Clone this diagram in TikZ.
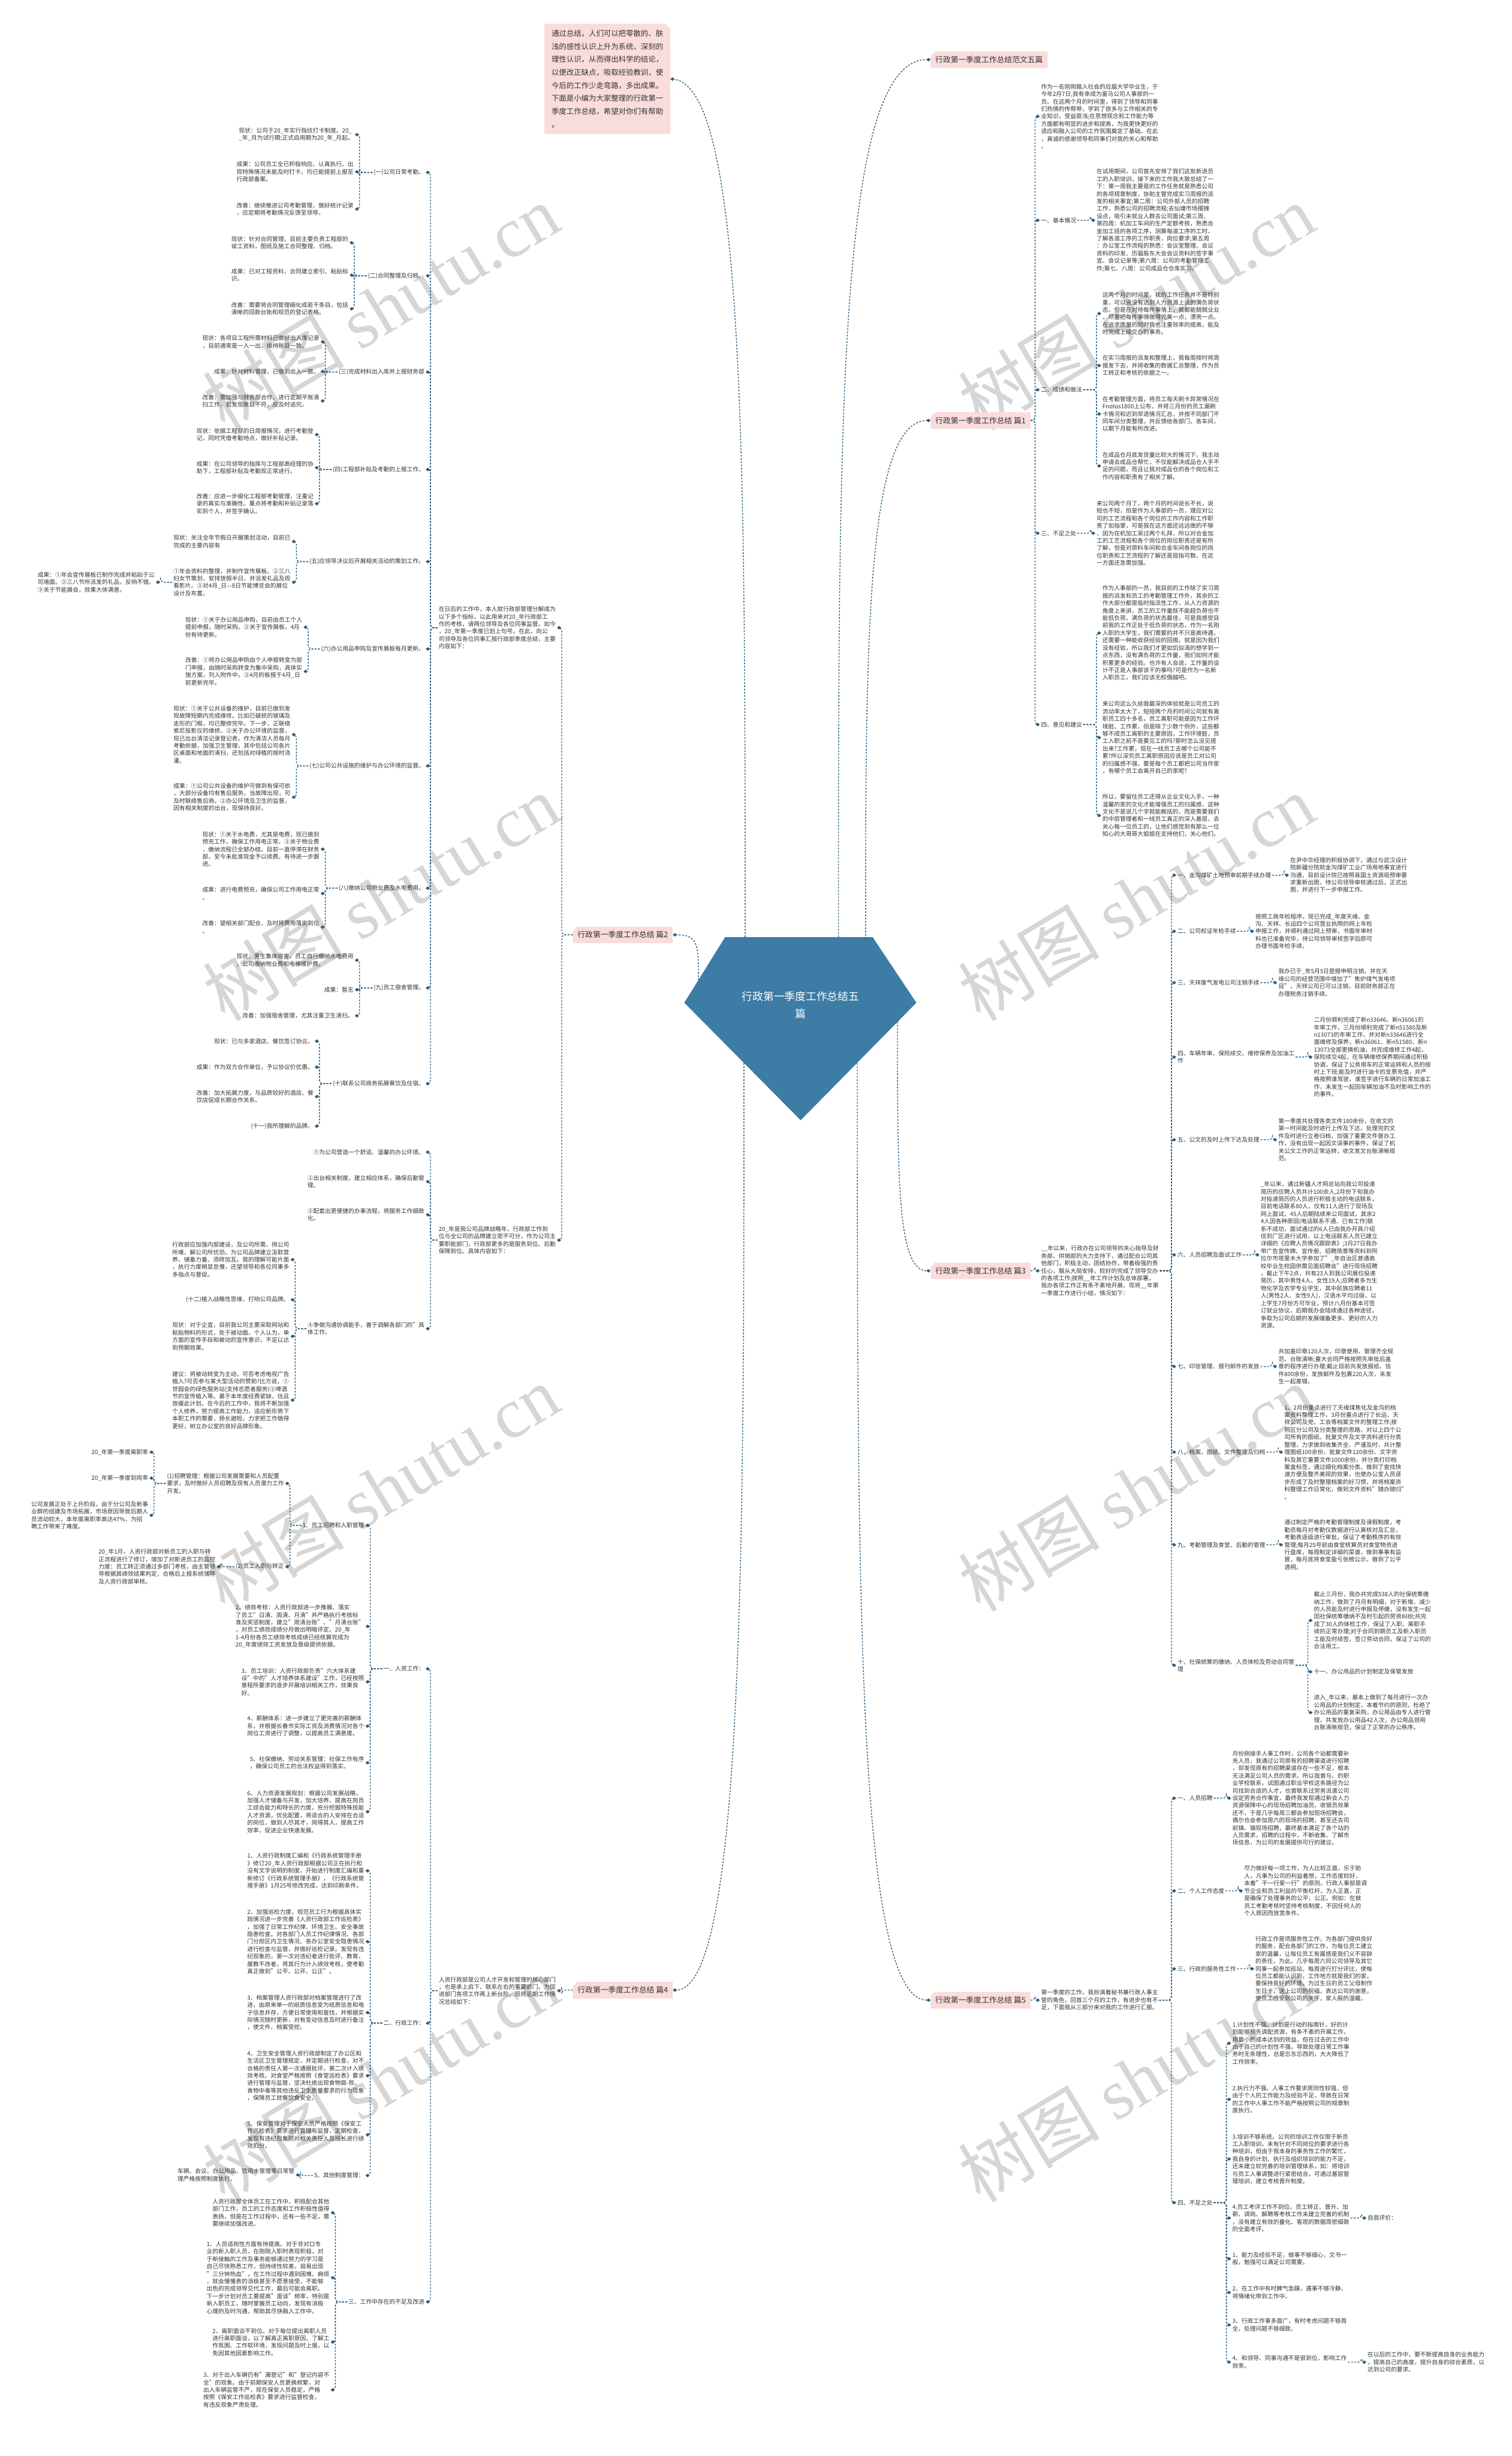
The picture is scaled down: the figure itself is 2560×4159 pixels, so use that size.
\documentclass[tikz,border=0pt]{standalone}
\usepackage{fontspec}
\setmainfont{Noto Sans CJK SC}
\newfontfamily\wmserif{Liberation Serif}
\usetikzlibrary{arrows.meta,shapes.misc}
\definecolor{lnkc}{HTML}{2B5F82}
\definecolor{pinkbg}{HTML}{FADCDC}
\definecolor{ctrbg}{HTML}{3D7CA4}
\definecolor{txtc}{HTML}{333333}
\definecolor{wmc}{HTML}{D6D6D6}
\newcommand\mmL[2]{\draw[lnk] (#1.west) -| ([xshift=8pt]#2.east) -- (#2.east);}
\newcommand\mmR[2]{\draw[lnk] (#1.east) -| ([xshift=-8pt]#2.west) -- (#2.west);}
\begin{document}
\begin{tikzpicture}[x=1pt,y=-1pt,
 txt/.style={font=\fontsize{9.9}{12.6}\selectfont, align=left, inner sep=2pt, text=txtc},
 lbl/.style={chamfered rectangle, chamfered rectangle corners=north west, chamfered rectangle xsep=4pt, fill=pinkbg, font=\fontsize{13}{16}\selectfont, inner xsep=4pt, minimum height=28pt, text=txtc},
 notebox/.style={chamfered rectangle, chamfered rectangle corners=north east, chamfered rectangle xsep=5pt, fill=pinkbg, font=\fontsize{12.6}{22}\selectfont, align=left, inner sep=7pt, text=txtc},
 lnk/.style={draw=lnkc, line width=1.4pt, dash pattern=on 3pt off 2.5pt, rounded corners=6pt, -{Diamond[length=7pt,width=6pt]}},
 wm/.style={text=wmc, rotate=31, font=\fontsize{120}{120}\selectfont}
]
\fill[white] (0,0) rectangle (2560,4159);
\useasboundingbox (0,0) rectangle (2560,4159);

% watermarks
\foreach \yy/\nm in {520/1,1520/2,2520/3,3520/4}{
 \node[wm] (wmL\nm) at (645,\yy) {树图 {\wmserif shutu.cn}};
 \node[wm] (wmR\nm) at (1924,\yy) {树图 {\wmserif shutu.cn}};
}

% center
\fill[ctrbg] (1228,1587) -- (1478,1587) -- (1552,1698) -- (1356,1897) -- (1159,1698) -- cycle;
\node[text=white, font=\fontsize{18}{29}\selectfont, align=center] (ctr) at (1356,1702) {行政第一季度工作总结五\\篇};
\coordinate (cNote) at (1262,1587);
\coordinate (cFW) at (1420,1587);
\coordinate (cP1) at (1466,1590);
\coordinate (cP3) at (1520,1730);
\coordinate (cP5) at (1452,1800);
\coordinate (cP2) at (1183,1660);
\coordinate (cP4) at (1260,1800);

% top
\node[notebox, anchor=north west] (note) at (922,40) {通过总结，人们可以把零散的、肤\\浅的感性认识上升为系统、深刻的\\理性认识，从而得出科学的结论，\\以便改正缺点，吸取经验教训，使\\今后的工作少走弯路，多出成果。\\下面是小编为大家整理的行政第一\\季度工作总结，希望对你们有帮助\\。};
\node[lbl, anchor=west] (FW) at (1576,101) {行政第一季度工作总结范文五篇};
\draw[lnk] (cNote) .. controls (1262,800) and (1262,148) .. (note.east);
\draw[lnk] (cFW) .. controls (1420,700) and (1420,101) .. (FW.west);

% ================= 篇1 =================
\node[lbl, anchor=west] (R1) at (1576,712) {行政第一季度工作总结 篇1};
\draw[lnk] (cP1) .. controls (1466,1100) and (1466,712) .. (R1.west);
\node[txt, anchor=west] (p1) at (1761,197) {作为一名刚刚踏入社会的应届大学毕业生，于\\今年2月7日,我有幸成为富马公司人事部的一\\员。在这两个月的时间里，得到了领导和同事\\们热情的传帮带，学到了很多与工作相关的专\\业知识，受益匪浅;在思想观念和工作能力等\\方面都有明显的进步和提高，为我更快更好的\\适应和融入公司的工作氛围奠定了基础。在此\\，真诚的感谢领导和同事们对我的关心和帮助\\。};
\node[txt, anchor=west] (r1) at (1761,373) {一、基本情况};
\node[txt, anchor=west] (r2) at (1761,660) {二、成绩和做法};
\node[txt, anchor=west] (r3) at (1761,903) {三、不足之处};
\node[txt, anchor=west] (r4) at (1761,1227) {四、意见和建议};
\mmR{R1}{p1}\mmR{R1}{r1}\mmR{R1}{r2}\mmR{R1}{r3}\mmR{R1}{r4}
\node[txt, anchor=west] (r1a) at (1855,373) {在试用期间，公司首先安排了我们这批新进员\\工的入职培训，接下来的工作我大致总结了一\\下：第一周我主要是的工作任务就是熟悉公司\\的各项规章制度，协助主管完成实习周报的派\\发的相关事宜;第二周：公司外部人员的招聘\\工作，熟悉公司的招聘流程;去仙塘市场摆摊\\设点，吸引未就业人群去公司面试;第三周、\\第四周：机加工车间的生产定额考核，熟悉合\\金加工班的各项工序，测算每道工序的工时，\\了解各道工序的工作职责，岗位要求;第五周\\：办公室工作流程的熟悉：会议室整理、会议\\资料的印发、历届股东大会会议资料的签字事\\宜、会议记录等;第六周：公司的考勤管理工\\作;第七、八周：公司成品仓仓库实习。};
\mmR{r1}{r1a}
\node[txt, anchor=west] (r2a) at (1865,531) {这两个月的时间里，我的工作任务并不是特别\\重，可以说没有达到人力资源上说的满负荷状\\态，但是在对待每件事情上，我都能兢兢业业\\，尽量把每件事情做得完美一点，漂亮一点。\\在追求质量的同时我也注重效率的提高，能及\\时完成上级交办的事务。};
\node[txt, anchor=west] (r2b) at (1865,619) {在实习周报的派发和整理上，我每周按时将周\\报发下去，并将收集的数据汇总整理，作为员\\工转正和考核的依据之一。};
\node[txt, anchor=west] (r2c) at (1865,701) {在考勤管理方面，将员工每天刷卡异常情况在\\Fnotos1800上公布，并将三月份的员工漏刷\\卡情况和迟到早退情况汇总，并按不同部门不\\同车间分类整理，并反馈给各部门、各车间，\\以期下月能有所改进。};
\node[txt, anchor=west] (r2d) at (1865,789) {在成品仓月底发货量比较大的情况下，我主动\\申请去成品仓帮忙，不仅能解决成品仓人手不\\足的问题，而且让我对成品仓的各个岗位和工\\作内容和职责有了相关了解。};
\mmR{r2}{r2a}\mmR{r2}{r2b}\mmR{r2}{r2c}\mmR{r2}{r2d}
\node[txt, anchor=west] (r3a) at (1855,903) {来公司两个月了，两个月的时间说长不长，说\\短也不短，但是作为人事部的一员，理应对公\\司的工艺流程和各个岗位的工作内容和工作职\\责了如指掌，可是我在这方面还远远做的不够\\，因为在机加工呆过两个礼拜，所以对合金加\\工的工艺流程和各个岗位的岗位职责还是有所\\了解，但是对原料车间和合金车间各岗位的岗\\位职责和工艺流程的了解还是屈指可数。在这\\一方面还急需加强。};
\mmR{r3}{r3a}
\node[txt, anchor=west] (r4a) at (1865,1072) {作为人事部的一员，我目前的工作除了实习周\\报的派发和员工的考勤管理工作外，其余的工\\作大部分都是临时指派性工作，从人力资源的\\角度上来讲，员工的工作量既不能超负荷也不\\能低负荷，满负荷的状态最佳，可是我感觉目\\前我的工作正处于低负荷的状态，作为一名刚\\入职的大学生，我们需要的并不只是高待遇，\\还需要一种能收获经验的回报。就是因为我们\\没有经验，所以我们才更如饥似渴的想学到一\\点东西，没有满负荷的工作量，我们如何才能\\积累更多的经验。也许有人会说，工作量的设\\计不正是人事部该干的事吗?可是作为一名新\\入职员工，我们应该无权僭越吧。};
\node[txt, anchor=west] (r4b) at (1865,1249) {来公司这么久给我最深的体验就是公司员工的\\流动率太大了，短短两个月的时间公司就有离\\职员工四十多名，员工离职可能是因为工作环\\境脏、工作累，但是除了少数个例外，这些都\\够不成员工离职的主要原因，工作环境脏，员\\工入职之前不是要见工的吗?那时怎么没见提\\出来?工作累，现在一线员工去哪个公司能不\\累?所以深究员工离职原因应该是员工对公司\\的归属感不强，要是每个员工都把公司当作家\\，有哪个员工会离开自己的家呢?};
\node[txt, anchor=west] (r4c) at (1865,1381) {所以，要留住员工还得从企业文化入手，一种\\温馨的家的文化才能增强员工的归属感，这种\\文化不是说几个字就能概括的，而是需要我们\\的中层管理者和一线员工真正的深入基层，去\\关心每一位员工的，让他们感觉到有那么一位\\知心的大哥哥大姐姐在支持他们，关心他们。};
\mmR{r4}{r4a}\mmR{r4}{r4b}\mmR{r4}{r4c}

% ================= 篇3 =================
\node[lbl, anchor=west] (R3) at (1576,2152) {行政第一季度工作总结 篇3};
\draw[lnk] (cP3) .. controls (1520,2000) and (1520,2152) .. (R3.west);
\node[txt, anchor=west] (D) at (1761,2152) {\_\_年以来，行政办在公司领导的关心指导及财\\务部、供销部的大力支持下，通过配合公司其\\他部门，积极主动，团结协作，带着极强的责\\任心，服从大局安排，较好的完成了领导交办\\的各项工作;按照\_\_年工作计划及总体部署，\\我办各项工作正有条不紊地开展，现将\_\_年第\\一季度工作进行小结，情况如下：};
\mmR{R3}{D}
\node[txt, anchor=west] (s1) at (1992,1482) {一、金沟煤矿土地预审前期手续办理};
\node[txt, anchor=west] (s2) at (1992,1577) {二、公司权证年检手续};
\node[txt, anchor=west] (s3) at (1992,1664) {三、天祥废气发电公司注销手续};
\node[txt, anchor=west] (s4) at (1992,1790) {四、车辆年审、保险续交、维修保养及加油工\\作};
\node[txt, anchor=west] (s5) at (1992,1930) {五、公文的及时上传下达及处理};
\node[txt, anchor=west] (s6) at (1992,2125) {六、人员招聘及面试工作};
\node[txt, anchor=west] (s7) at (1992,2314) {七、印信管理、报刊邮件的发放};
\node[txt, anchor=west] (s8) at (1992,2459) {八、档案、图纸、文件整理及归档};
\node[txt, anchor=west] (s9) at (1992,2616) {九、考勤管理及食堂、后勤的管理};
\node[txt, anchor=west] (s10) at (1992,2820) {十、社保统筹的缴纳、人员体检及劳动合同管\\理};
\mmR{D}{s1}\mmR{D}{s2}\mmR{D}{s3}\mmR{D}{s4}\mmR{D}{s5}\mmR{D}{s6}\mmR{D}{s7}\mmR{D}{s8}\mmR{D}{s9}\mmR{D}{s10}
\node[txt, anchor=west] (s1a) at (2183,1482) {在尹中华经理的积极协调下，通过与武汉设计\\院新疆分院就金沟煤矿工业广场用地事宜进行\\沟通，目前设计院已按照县国土资源局预审要\\求重新出图，待公司领导审核通过后，正式出\\图，并进行下一步申报工作。};
\node[txt, anchor=west] (s2a) at (2124,1577) {按照工商年检程序，现已完成\_年度天缘、金\\沟、天祥、长运四个公司营业执照的网上年检\\申报工作，并顺利通过网上预审，书面年审材\\料也已准备完毕，待公司领导审核签字后即可\\办理书面年检手续。};
\node[txt, anchor=west] (s3a) at (2163,1664) {我办已于\_年5月5日登报申明注销，并在天\\缘公司的经营范围中增加了"焦炉煤气发电项\\目"，天祥公司已可以注销，目前财务部正在\\办理税务注销手续。};
\node[txt, anchor=west] (s4a) at (2223,1790) {二月份顺利完成了新n33646、新n36061的\\年审工作，三月份顺利完成了新n51580及新\\n13073的年审工作，并对新n33646进行全\\面维修及保养，新n36061、新n51580、新n\\13073全部更换机油，共完成维修工作4起，\\保险续交4起，在车辆维修保养期间通过积极\\协调，保证了公务用车的正常运转和人员的按\\时上下班;能及时进行油卡的支票充值，并严\\格按照谁驾驶，谁签字进行车辆的日常加油工\\作，未发生一起因车辆加油不及时影响工作的\\的事件。};
\node[txt, anchor=west] (s5a) at (2163,1930) {第一季度共处理各类文件180余份，在收文的\\第一时间能及时进行上传及下达，处理完的文\\件及时进行立卷归档，加强了重要文件督办工\\作，没有出现一起因文误事的事件，保证了机\\关公文工作的正常运转，收文发文台账清晰规\\范。};
\node[txt, anchor=west] (s6a) at (2133,2125) {\_年以来，通过新疆人才网总站向我公司投递\\简历的应聘人员共计100余人,2月份下旬我办\\对投递简历的人员进行积极主动的电话联系，\\目前电话联系80人，仅有11人进行了现场及\\网上面试，45人后期陆续来公司面试，其余2\\4人因各种原因(电话联系不通、已有工作)联\\系不成功，面试通过的6人已由我办开具介绍\\信到厂区进行试用，以上电话联系人员已建立\\详细的《应聘人员情况跟踪表》;3月27日我办\\带广告宣传牌、宣传册、招聘简章等资料到阿\\拉尔市塔里木大学参加了"\_年自治区普通高\\校毕业生校园供需见面招聘会"进行现场招聘\\，截止下午2点，共有23人到我公司展位投递\\简历，其中男性4人、女性19人;应聘者多为生\\物化学及农学专业学生，其中民族应聘者11\\人(男性2人、女性9人)，汉语水平均过级，以\\上学生7月份方可毕业，预计八月份基本可签\\订就业协议，后期我办会陆续通过各种途径，\\争取为公司后期的发展储备更多、更好的人力\\资源。};
\node[txt, anchor=west] (s7a) at (2163,2314) {共加盖印章120人次，印章使用、管理齐全规\\范、台账清晰;重大合同严格按照先审批后盖\\章的程序进行办理;截止目前共发放报纸、信\\件800余份，发放邮件及包裹220人次，未发\\生一起差错。};
\node[txt, anchor=west] (s8a) at (2173,2459) {1、2月份重点进行了天缘煤焦化及金沟的档\\案资料整理工作，3月份重点进行了长运、天\\祥公司及党、工会等档案文件的整理工作;按\\照区分公司及分类整理的思路，对以上四个公\\司所有的图纸、批复文件及文字资料进行分类\\整理，力求做到收集齐全、严谨及时，共计整\\理图纸100余份、批复文件120余份、文字资\\料及其它重要文件1000余份，并分类打印档\\案盒标签，通过细化档案分类，做到了查找快\\速方便及整齐美观的效果，也使办公室人员逐\\步形成了及时整理档案的好习惯，并将档案资\\料整理工作日常化，做到文件资料"随办随归"\\。};
\node[txt, anchor=west] (s9a) at (2173,2616) {通过制定严格的考勤管理制度及请假制度，考\\勤员每月对考勤仪数据进行认真核对及汇总，\\考勤表逐级进行审批，保证了考勤秩序的有效\\管理;每月25号前由食堂核算员对食堂物资进\\行盘库，每周制定详细的菜谱，做到事事有监\\督，每月底将食堂盈亏张榜公示，做到了公平\\透明。};
\mmR{s1}{s1a}\mmR{s2}{s2a}\mmR{s3}{s3a}\mmR{s4}{s4a}\mmR{s5}{s5a}\mmR{s6}{s6a}\mmR{s7}{s7a}\mmR{s8}{s8a}\mmR{s9}{s9a}
\node[txt, anchor=west] (s10a) at (2223,2744) {截止三月份，我办共完成538人的社保统筹缴\\纳工作，做到了月月有明细，对于新增、减少\\的人员能及时进行申报及停缴，没有发生一起\\因社保统筹缴纳不及时引起的劳资纠纷;共完\\成了30人的体检工作，保证了入职、离职手\\续的正常办理;对于合同到期员工及新入职员\\工能及时续签、签订劳动合同，保证了公司的\\合法用工。};
\node[txt, anchor=west] (s10b) at (2223,2831) {十一、办公用品的计划制定及保管发放};
\node[txt, anchor=west] (s10c) at (2223,2900) {进入\_年以来，基本上做到了每月进行一次办\\公用品的计划制定，本着节约的原则，杜绝了\\办公用品的重复采购，办公用品由专人进行管\\理，共发放办公用品42人次，办公用品领用\\台账清晰规范，保证了正常的办公秩序。};
\mmR{s10}{s10a}\mmR{s10}{s10b}\mmR{s10}{s10c}

% ================= 篇5 =================
\node[lbl, anchor=west] (R5) at (1576,3387) {行政第一季度工作总结 篇5};
\draw[lnk] (cP5) .. controls (1452,2700) and (1452,3387) .. (R5.west);
\node[txt, anchor=west] (E) at (1761,3387) {第一季度的工作，我扮演着秘书兼行政人事主\\管的角色，回首三个月的工作，有进步也有不\\足，下面我从三部分来对我的工作进行汇报。};
\mmR{R5}{E}
\node[txt, anchor=west] (t1) at (1992,3045) {一、人员招聘};
\node[txt, anchor=west] (t2) at (1992,3202) {二、个人工作态度};
\node[txt, anchor=west] (t3) at (1992,3334) {三、行政的服务性工作};
\node[txt, anchor=west] (t4) at (1992,3730) {四、不足之处};
\mmR{E}{t1}\mmR{E}{t2}\mmR{E}{t3}\mmR{E}{t4}
\node[txt, anchor=west] (t1a) at (2085,3045) {月份刚接手人事工作时，公司各个站都需要补\\充人员，我通过公司原有的招聘渠道进行招聘\\，却发现原有的招聘渠道存在一些不足，根本\\无法满足公司人员的需求。所以我曾与、的职\\业学校联系，试图通过职业学校这条路径为公\\司找到合适的人才，也曾联系过劳务派遣公司\\谈定劳务合作事宜，最终我发现通过新会人力\\资源保障中心的现场招聘加油员、收银员效果\\还不，于是几乎每周三都会参加现场招聘会，\\偶尔也会参加周六的现场的招聘，甚至还去司\\前镇、镇现场招聘，最终基本满足了各个站的\\人员需求，招聘的过程中，不断收集、了解市\\场信息，为公司的发展提供可行的建议。};
\node[txt, anchor=west] (t2a) at (2105,3202) {尽力做好每一项工作，为人比较正直，乐于助\\人，凡事为公司的利益着想，工作态度较好，\\本着"干一行爱一行"的原则。行政人事部是调\\节企业和员工利益的平衡杠杆，为人正直，正\\是确保了处理事务的公平、公正。例如：在做\\员工考勤考核时坚持考核制度，不因任何人的\\个人原因而放宽条件。};
\node[txt, anchor=west] (t3a) at (2124,3334) {行政工作是项服务性工作，为各部门提供良好\\的服务，配合各部门的工作，为每位员工建立\\家的温馨，让每位员工有属感是我们义不容辞\\的责任，为此，几乎每周六同公司领导及其它\\同事一起参加巡站，每周进行打分评比，使每\\位员工都能认识到，工作地方就是我们的家，\\要保持良好的环境，为过生日的员工父母制作\\生日卡，送上公司的祝福，表达公司的谢意，\\使员工感受到公司的关怀，家人般的温暖。};
\mmR{t1}{t1a}\mmR{t2}{t2a}\mmR{t3}{t3a}
\node[txt, anchor=west] (u1) at (2085,3460) {1.计划性不强。计划是行动的指南针，好的计\\划能够预先调配资源，有条不紊的开展工作，\\用最小的成本达到的效益。但在过去的工作中\\由于自己的计划性不强，导致处理日常工作事\\务时无条理性，总是忘东忘西的，大大降低了\\工作效率。};
\node[txt, anchor=west] (u2) at (2085,3555) {2.执行力不强。人事工作要求原则性较强，但\\由于个人的工作能力及经验不足，导致在日常\\的工作中人事工作不能严格按照公司的规章制\\度执行。};
\node[txt, anchor=west] (u3) at (2085,3656) {3.培训不够系统。公司的培训工作仅限于新员\\工入职培训，未有针对不同岗位的要求进行各\\种培训，但由于我本身的事务性工作的繁忙，\\我自身的计划、执行及组织培训的能力不足，\\还未建立较完善的培训管理体系，如：将培训\\与员工人事调整进行紧密结合，可通过基层管\\理培训，建立考核晋升制度。};
\node[txt, anchor=west] (u4) at (2085,3756) {4.员工考评工作不到位。员工转正、晋升、加\\薪、调岗、解聘等考核工作未建立完善的机制\\，没有建立有效的量化、客观的数据周密细致\\的全面考评。};
\node[txt, anchor=west] (u5) at (2085,3825) {1、能力及经验不足，做事不够细心，文书一\\般，勉强可以满足公司需要。};
\node[txt, anchor=west] (u6) at (2085,3882) {2、在工作中有时脾气急躁，遇事不够冷静，\\将情绪化带到工作中。};
\node[txt, anchor=west] (u7) at (2085,3937) {3、行政工作事多面广，有时考虑问题不够周\\全，处理问题不够细致。};
\node[txt, anchor=west] (u8) at (2085,4000) {4、和领导、同事沟通不是很到位，影响工作\\效率。};
\mmR{t4}{u1}\mmR{t4}{u2}\mmR{t4}{u3}\mmR{t4}{u4}\mmR{t4}{u5}\mmR{t4}{u6}\mmR{t4}{u7}\mmR{t4}{u8}
\node[txt, anchor=west] (u4a) at (2314,3756) {自我评价：};
\node[txt, anchor=west] (u8a) at (2314,4000) {在以后的工作中，要不断提高自身的业务能力\\，提高自己的高度，提升自身的综合素质，以\\达到公司的要求。};
\mmR{u4}{u4a}\mmR{u8}{u8a}

% ================= 篇2 =================
\node[lbl, anchor=west] (L2) at (970,1583) {行政第一季度工作总结 篇2};
\draw[lnk] (cP2) .. controls (1183,1600) and (1183,1583) .. (L2.east);
\node[txt, anchor=west] (A) at (741,1063) {在日后的工作中，本人就行政部管理分解成为\\以下多个指标，以此用来对20\_年行政部工\\作的考核，请两位领导及各位同事监督。如今\\，20\_年第一季度已划上句号。在此，向公\\司领导及各位同事汇报行政部季度总结，主要\\内容如下：};
\node[txt, anchor=west] (B) at (741,2100) {20\_年是我公司品牌战略年，行政部工作到\\位与全公司的品牌建立密不可分，作为公司主\\要职能部门，行政部更多的是服务到位、后勤\\保障到位。具体内容如下：};
\mmL{L2}{A}\mmL{L2}{B}
\node[txt, anchor=east] (a1) at (721,292) {(一)公司日常考勤。};
\node[txt, anchor=east] (a2) at (721,467) {(二)合同整理及归档。};
\node[txt, anchor=east] (a3) at (721,630) {(三)完成材料出入库并上报财务部};
\node[txt, anchor=east] (a4) at (721,795) {(四)工程部补贴及考勤的上报工作。};
\node[txt, anchor=east] (a5) at (721,951) {(五)应领导决议后开展相关活动的策划工作。};
\node[txt, anchor=east] (a6) at (721,1099) {(六)办公用品申购及宣传展板每月更新。};
\node[txt, anchor=east] (a7) at (721,1297) {(七)公司公共设施的维护与办公环境的监督。};
\node[txt, anchor=east] (a8) at (721,1504) {(八)缴纳公司物业费及水电费用。};
\node[txt, anchor=east] (a9) at (721,1673) {(九)员工宿舍管理。};
\node[txt, anchor=east] (a10) at (721,1835) {(十)联系公司商务拓展餐饮及住宿。};
\mmL{A}{a1}\mmL{A}{a2}\mmL{A}{a3}\mmL{A}{a4}\mmL{A}{a5}\mmL{A}{a6}\mmL{A}{a7}\mmL{A}{a8}\mmL{A}{a9}\mmL{A}{a10}
\node[txt, anchor=east] (a1a) at (601,228) {现状：公司于20\_年实行指纹打卡制度。20\_\\\_年\_月为试行期;正式启用期为20\_年\_月起。};
\node[txt, anchor=east] (a1b) at (601,291) {成果：公司员工全已积极响应、认真执行。出\\现特殊情况未能及时打卡，均已能提前上报至\\行政部备案。};
\node[txt, anchor=east] (a1c) at (601,354) {改善：继续推进公司考勤管理，做好统计记录\\，应定期将考勤情况反馈至领导。};
\mmL{a1}{a1a}\mmL{a1}{a1b}\mmL{a1}{a1c}
\node[txt, anchor=east] (a2a) at (592,411) {现状：针对合同管理，目前主要负责工程部的\\竣工资料，图纸及施工合同整理、归档。};
\node[txt, anchor=east] (a2b) at (592,466) {成果：已对工程资料、合同建立索引、粘贴标\\识。};
\node[txt, anchor=east] (a2c) at (592,523) {改善：需要将合同管理细化成若干条目，包括\\清晰的回款台账和规范的登记表格。};
\mmL{a2}{a2a}\mmL{a2}{a2b}\mmL{a2}{a2c}
\node[txt, anchor=east] (a3a) at (543,579) {现状：各项目工程所需材料已做好出入库记录\\，目前通常是一入一出，维持账目一致。};
\node[txt, anchor=east] (a3b) at (543,629) {成果：针对材料管理，已做到出入一致。};
\node[txt, anchor=east] (a3c) at (543,679) {改善：需加强与财务部合作，进行定期平账清\\扫工作，若发现账目不符，应及时追究。};
\mmL{a3}{a3a}\mmL{a3}{a3b}\mmL{a3}{a3c}
\node[txt, anchor=east] (a4a) at (533,736) {现状：依据工程部的日周报情况，进行考勤登\\记，同时凭借考勤地点，做好补贴记录。};
\node[txt, anchor=east] (a4b) at (533,792) {成果：在公司领导的指挥与工程部高经理的协\\助下，工程部补贴及考勤现正常进行。};
\node[txt, anchor=east] (a4c) at (533,853) {改善：应进一步细化工程部考勤管理，注重记\\录的真实与准确性。重点将考勤和补贴记录落\\实到个人，并签字确认。};
\mmL{a4}{a4a}\mmL{a4}{a4b}\mmL{a4}{a4c}
\node[txt, anchor=east] (a5a) at (494,917) {现状：关注全年节假日开展策划活动，目前已\\完成的主要内容有};
\node[txt, anchor=east] (a5b) at (494,986) {①年会资料的整理，并制作宣传展板。②三八\\妇女节策划，安排放假半日，并派发礼品及观\\看影片。③对4月\_日—8日节能博览会的展位\\设计及布置。};
\mmL{a5}{a5a}\mmL{a5}{a5b}
\node[txt, anchor=east] (a5c) at (264,986) {成果：①年会宣传展板已制作完成并粘贴于公\\司墙面。②三八节所派发的礼品，反响不错。\\③关于节能展会，效果大体满意。};
\mmL{a5b}{a5c}
\node[txt, anchor=east] (a6a) at (514,1062) {现状：①关于办公用品申购，目前由员工个人\\提前申报，随时采购。②关于宣传展板，4月\\份有待更新。};
\node[txt, anchor=east] (a6b) at (514,1137) {改善：①将办公用品申购由个人申报转变为部\\门申报，由随时采购转变为集中采购，具体实\\施方案，列入附件中。②4月的板报于4月\_日\\前更新完毕。};
\mmL{a6}{a6a}\mmL{a6}{a6b}
\node[txt, anchor=east] (a7a) at (494,1244) {现状：①关于公共设备的维护，目前已做到发\\现故障短期内完成维修。比如已破损的玻璃及\\走形的门框，均已整修完毕。下一步，正联络\\索尼投影仪的维修。②关于办公环境的监督，\\现已出台清洁记录登记表。作为清洁人员每月\\考勤依据，加强卫生管理，其中包括公司各片\\区桌面和地面的清扫，还包括对绿植的按时浇\\灌。};
\node[txt, anchor=east] (a7b) at (494,1350) {成果：①公司公共设备的维护可做到有保可依\\，大部分设备均有售后服务。当故障出现，可\\及时联络售后商。②办公环境及卫生的监督，\\因有相关制度的出台，现保持良好。};
\mmL{a7}{a7a}\mmL{a7}{a7b}
\node[txt, anchor=east] (a8a) at (543,1438) {现状：①关于水电费，尤其是电费，现已做到\\预充工作，确保工作用电正常。②关于物业费\\，缴纳流程已全部办结。目前一直停滞在财务\\部，至今未批准现金予以续费。有待进一步跟\\进。};
\node[txt, anchor=east] (a8b) at (543,1513) {成果：进行电费预充，确保公司工作用电正常\\。};
\node[txt, anchor=east] (a8c) at (543,1570) {改善：望相关部门配合，及时将费用落实到位\\。};
\mmL{a8}{a8a}\mmL{a8}{a8b}\mmL{a8}{a8c}
\node[txt, anchor=east] (a9a) at (601,1626) {现状：男生集体宿舍，员工自行缴纳水电费用\\，公司缴纳物业费和电梯维护费。};
\node[txt, anchor=east] (a9b) at (601,1676) {成果：暂无};
\node[txt, anchor=east] (a9c) at (601,1720) {改善：加强宿舍管理，尤其注重卫生清扫。};
\mmL{a9}{a9a}\mmL{a9}{a9b}\mmL{a9}{a9c}
\node[txt, anchor=east] (a10a) at (533,1763) {现状：已与多家酒店、餐饮签订协议。};
\node[txt, anchor=east] (a10b) at (533,1807) {成果：作为双方合作单位，予以协议价优惠。};
\node[txt, anchor=east] (a10c) at (533,1857) {改善：加大拓展力度，与品质较好的酒店、餐\\饮店促成长期合作关系。};
\node[txt, anchor=east] (a10d) at (533,1907) {(十一)我所理解的品牌。};
\mmL{a10}{a10a}\mmL{a10}{a10b}\mmL{a10}{a10c}\mmL{a10}{a10d}
\node[txt, anchor=east] (b1) at (721,1951) {①为公司营造一个舒适、温馨的办公环境。};
\node[txt, anchor=east] (b2) at (721,2001) {②出台相关制度，建立相应体系，确保后勤管\\理。};
\node[txt, anchor=east] (b3) at (721,2057) {③配套出更便捷的办事流程，将服务工作细致\\化。};
\node[txt, anchor=east] (b4) at (721,2250) {④争做沟通协调能手，善于调解各部门的"具\\体工作。};
\mmL{B}{b1}\mmL{B}{b2}\mmL{B}{b3}\mmL{B}{b4}
\node[txt, anchor=east] (b4a) at (492,2133) {行政部应加强内部建设，及公司所需、排公司\\所难、解公司所忧恐。为公司品牌建立汲取营\\养、储备力量、添砖加瓦。我的理解可能片面\\，执行力度稍显怠慢，还望领导和各位同事多\\多指点与督促。};
\node[txt, anchor=east] (b4b) at (492,2201) {(十二)植入战略性思维，打响公司品牌。};
\node[txt, anchor=east] (b4c) at (492,2263) {现状：对于企宣，目前我公司主要采取网站和\\粘贴物料的形式，处于被动面。个人认为，单\\方面的宣传手段和被动的宣传意识，不足以达\\到预期效果。};
\node[txt, anchor=east] (b4d) at (492,2371) {建议：将被动转变为主动，可否考虑电视广告\\植入?可否参与某大型活动的赞助?比方说，①\\世园会的绿色服务站(支持志愿者服务)②啤酒\\节的宣传植入等。基于本年度经费紧缺，估且\\放缓此计划。在今后的工作中，我将不断加强\\个人修养，努力提高工作能力，适应新形势下\\本职工作的需要，扬长避短，力求把工作做得\\更好，树立办公室的良好品牌形象。};
\mmL{b4}{b4a}\mmL{b4}{b4b}\mmL{b4}{b4c}\mmL{b4}{b4d}

% ================= 篇4 =================
\node[lbl, anchor=west] (L4) at (970,3370) {行政第一季度工作总结 篇4};
\draw[lnk] (cP4) .. controls (1260,2600) and (1260,3370) .. (L4.east);
\node[txt, anchor=west] (C) at (741,3371) {人资行政部是公司人才开发和管理的核心部门\\，也是承上启下、联系左右的重要部门。为促\\进部门各项工作再上新台阶，现将近期工作情\\况总结如下：};
\mmL{L4}{C}
\node[txt, anchor=east] (d1) at (721,2826) {一、人资工作：};
\node[txt, anchor=east] (d2) at (721,3426) {二、行政工作：};
\node[txt, anchor=east] (d3) at (721,3898) {三、工作中存在的不足及改进};
\mmL{C}{d1}\mmL{C}{d2}\mmL{C}{d3}
\node[txt, anchor=east] (e1) at (619,2583) {1、员工招聘和入职管理};
\node[txt, anchor=east] (e2) at (619,2754) {2、绩效考核：人资行政部进一步推展、落实\\了员工"日清、周清、月清"并严格执行考核标\\准及奖惩制度，建立"周清台账"、"月清台账"\\，对员工绩效成绩分月做出明暗评定。20\_年\\1-4月份各员工绩效考核成绩已经核算完成为\\20\_年度绩效工资发放及晋级提供依据。};
\node[txt, anchor=east] (e3) at (619,2848) {3、员工培训：人资行政部负责"六大体系建\\设"中的"人才培养体系建设"工作，已经按照\\章程所要求的逐步开展培训相关工作，效果良\\好。};
\node[txt, anchor=east] (e4) at (619,2923) {4、薪酬体系：进一步建立了更完善的薪酬体\\系，并根据长春市实际工资及消费情况对各个\\岗位工资进行了调整，以提高员工满意度。};
\node[txt, anchor=east] (e5) at (619,2985) {5、社保缴纳、劳动关系管理：社保工作有序\\，确保公司员工的合法权益得到落实。};
\node[txt, anchor=east] (e6) at (619,3068) {6、人力资源发展规划：根据公司发展战略，\\加强人才储备与开发，加大培养、提高在岗员\\工综合能力和特长的力度，充分挖掘特殊技能\\人才资源，优化配置，将适合的人安排在合适\\的岗位，做到人尽其才，岗得其人，提高工作\\效率，促进企业快速发展。};
\mmL{d1}{e1}\mmL{d1}{e2}\mmL{d1}{e3}\mmL{d1}{e4}\mmL{d1}{e5}\mmL{d1}{e6}
\node[txt, anchor=east] (f1) at (483,2512) {(1)招聘管理：根据公司发展需要和人员配置\\要求，及时做好人员招聘及现有人员潜力工作\\开发。};
\node[txt, anchor=east] (f2) at (483,2653) {(2)员工入职与转正};
\mmL{e1}{f1}\mmL{e1}{f2}
\node[txt, anchor=east] (g1) at (253,2459) {20\_年第一季度离职率};
\node[txt, anchor=east] (g2) at (253,2503) {20\_年第一季度到岗率};
\node[txt, anchor=east] (g3) at (253,2566) {公司发展正处于上升阶段，由于分公司及新事\\业群的组建及市场拓展，市场原因导致后期人\\员流动较大，本年度离职率高达47\%，为招\\聘工作带来了难度。};
\mmL{f1}{g1}\mmL{f1}{g2}\mmL{f1}{g3}
\node[txt, anchor=east] (h1) at (367,2653) {20\_年1月，人资行政部对新员工的入职与转\\正流程进行了修订，增加了对新进员工的监控\\力度：员工转正须通过多部门考核，由主管领\\导根据其绩效结果判定，合格后上报系统领导\\及人资行政部审核。};
\mmL{f2}{h1}
\node[txt, anchor=east] (k1) at (619,3168) {1、人资行政制度汇编和《行政系统管理手册\\》修订20\_年人资行政部根据公司正在执行和\\没有文字说明的制度，开始进行制度汇编和重\\新修订《行政系统管理手册》，《行政系统管\\理手册》1月25号修改完成，达到印刷条件。};
\node[txt, anchor=east] (k2) at (619,3288) {2、加强巡检力度，规范员工行为根据具体实\\践情况进一步完善《人资行政部工作巡检表》\\，加强了日常工作纪律、环境卫生、安全事故\\隐患检查。对各部门人员工作纪律情况、各部\\门分担区内卫生情况、各办公室安全隐患情况\\进行检查与监督，并做好巡检记录。发现有违\\纪现象的，第一次对违纪者进行批评、教育，\\屡教不改者，将其行为计入绩效考核，使考勤\\真正做到"公平、公开、公正"。};
\node[txt, anchor=east] (k3) at (619,3408) {3、档案管理人资行政部对档案管理进行了改\\进，由原来单一的纸质信息变为纸质信息和电\\子信息并存，方便日常使用和查找，并根据实\\际情况随时更新，对有变动信息及时进行备注\\，使文件、档案受控。};
\node[txt, anchor=east] (k4) at (619,3515) {4、卫生安全管理人资行政部制定了办公区和\\生活区卫生管理规定，并定期进行检查，对不\\合格的责任人第一次通报批评，第二次计入绩\\效考核。对食堂严格按照《食堂巡检表》要求\\进行管理与监督，坚决杜绝出现食物腐-败、\\食物中毒等其他违反卫生质量要求的行为现象\\，保障员工就餐饮食安全。};
\node[txt, anchor=east] (k5) at (619,3615) {5、保安管理对于保安人员严格按照《保安工\\作巡检表》要求进行管理与监督，定期检查，\\发现有违纪现象则对相关责任人及班长进行绩\\效扣分。};
\node[txt, anchor=east] (k6) at (619,3684) {5、其他制度管理：};
\mmL{d2}{k1}\mmL{d2}{k2}\mmL{d2}{k3}\mmL{d2}{k4}\mmL{d2}{k5}\mmL{d2}{k6}
\node[txt, anchor=east] (k6a) at (501,3683) {车辆、会议、办公用品、饮用水管理等日常管\\理严格按照制度执行。};
\mmL{k6}{k6a}
\node[txt, anchor=east] (m1) at (560,3747) {人资行政部全体员工在工作中，积极配合其他\\部门工作，员工的工作态度和工作积极性值得\\表扬，但是在工作过程中，还有一些不足，需\\要继续加强改进。};
\node[txt, anchor=east] (m2) at (560,3857) {1、人员适岗性方面有待提高。对于非对口专\\业的新入职人员，在刚刚入职时表现积极，对\\于新接触的工作及事务能够通过努力的学习是\\自己尽快熟悉工作，但持续性较差，容易出现\\"三分钟热血"，在工作过程中遇到困难、麻烦\\，就会慢慢表的消极甚至不愿意接受，不能够\\出色的完成领导交代工作，最后可能会离职。\\下一步计划对员工要提高"面谈"频率，特别是\\新入职员工，随时掌握员工动向，发现有消极\\心理的及时沟通，帮助其尽快融入工作中。};
\node[txt, anchor=east] (m3) at (560,3966) {2、离职面谈不到位。对于每位提出离职人员\\进行离职面谈，以了解真正离职原因、了解工\\作氛围、工作软环境，发现问题及时上报，以\\免因其他因素影响工作。};
\node[txt, anchor=east] (m4) at (560,4047) {3、对于出入车辆仍有"漏登记"和"登记内容不\\全"的现象。由于前期保安人员更换频繁，对\\出入车辆监管不严，现在保安人员稳定，严格\\按照《保安工作巡检表》要求进行监督检查，\\有违反现象严肃处理。};
\mmL{d3}{m1}\mmL{d3}{m2}\mmL{d3}{m3}\mmL{d3}{m4}
\end{tikzpicture}
\end{document}
